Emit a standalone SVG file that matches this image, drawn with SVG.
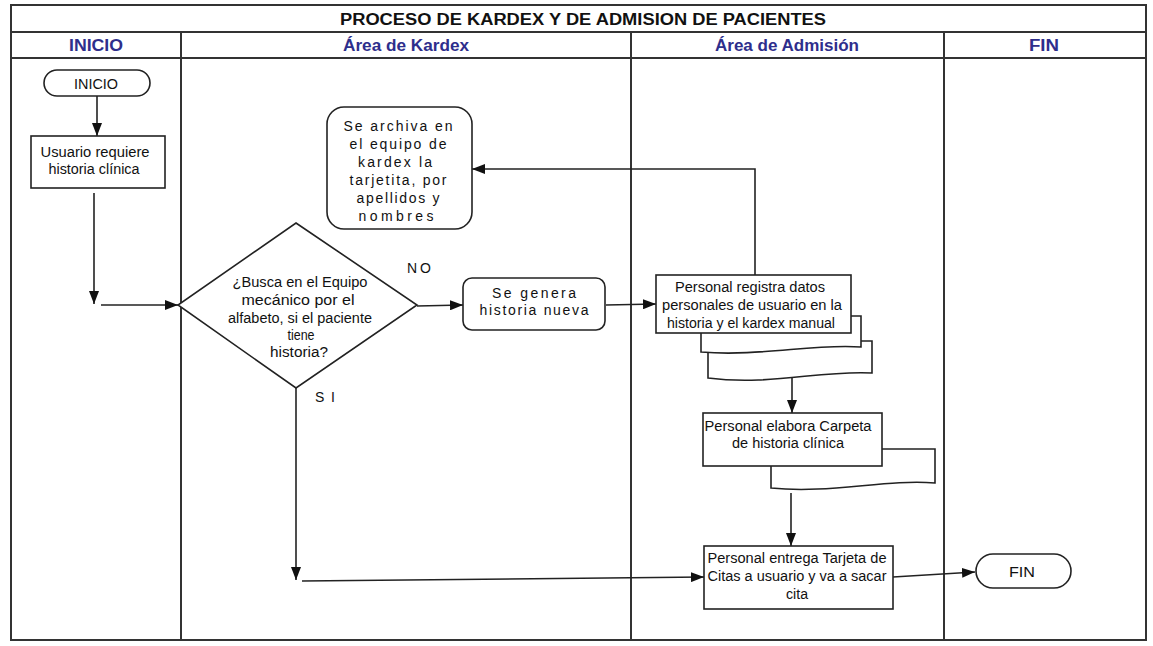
<svg xmlns="http://www.w3.org/2000/svg" width="1153" height="646" viewBox="0 0 1153 646">
  <defs>
    <marker id="arrow" markerWidth="13" markerHeight="10" refX="13" refY="5" orient="auto" markerUnits="userSpaceOnUse">
      <path d="M0,0 L13,5 L0,10 Z" fill="#111"/>
    </marker>
    <style>
      .frame { fill: none; stroke: #333; stroke-width: 2; }
      .shape { fill: #fff; stroke: #222; stroke-width: 1.6; }
      .conn { fill: none; stroke: #222; stroke-width: 1.6; marker-end: url(#arrow); }
      .title { font-family: "Liberation Sans Narrow", "Liberation Sans", Arial, sans-serif; font-weight: bold; font-size: 16px; fill: #111; }
      .head { font-family: "Liberation Sans Narrow", "Liberation Sans", Arial, sans-serif; font-weight: bold; font-size: 16px; fill: #2e2e8c; }
      .t { font-family: "Liberation Sans", Arial, sans-serif; font-size: 14px; fill: #111; text-anchor: middle; }
      .ts { font-family: "Liberation Sans", Arial, sans-serif; font-size: 14px; fill: #111; text-anchor: middle; }
    </style>
  </defs>
  <rect width="1153" height="646" fill="#fff"/>

  <!-- swimlane frame -->
  <g id="frame">
    <rect class="frame" x="11" y="5" width="1135" height="635"/>
    <line class="frame" x1="11" y1="32" x2="1146" y2="32"/>
    <line class="frame" x1="11" y1="58" x2="1146" y2="58"/>
    <line class="frame" x1="181" y1="32" x2="181" y2="640"/>
    <line class="frame" x1="631" y1="32" x2="631" y2="640"/>
    <line class="frame" x1="944" y1="32" x2="944" y2="640"/>
    <text class="title" x="340" y="25" textLength="486" lengthAdjust="spacingAndGlyphs">PROCESO DE KARDEX  Y DE ADMISION DE PACIENTES</text>
    <text class="head" x="69" y="51" textLength="54" lengthAdjust="spacingAndGlyphs">INICIO</text>
    <text class="head" x="343" y="51" textLength="126" lengthAdjust="spacingAndGlyphs">Área de Kardex</text>
    <text class="head" x="715" y="51" textLength="144" lengthAdjust="spacingAndGlyphs">Área de Admisión</text>
    <text class="head" x="1029" y="51" textLength="30" lengthAdjust="spacingAndGlyphs">FIN</text>
  </g>

  <!-- connectors -->
  <g id="connectors">
    <path class="conn" d="M97,96 V136"/>
    <path class="conn" d="M94,193 V304"/>
    <path class="conn" d="M101,305 H178"/>
    <path class="conn" d="M417,306 L463,305"/>
    <path class="conn" d="M606,305 L656,304"/>
    <path class="conn" d="M755,275 V169 H472"/>
    <path class="conn" d="M792,378 V413"/>
    <path class="conn" d="M791,493 V546"/>
    <path class="conn" d="M296,388 V580"/>
    <path class="conn" d="M302,581 L704,577"/>
    <path class="conn" d="M893,577 L975,572"/>
    <text class="t" x="419" y="273" textLength="24" lengthAdjust="spacing">NO</text>
    <text class="t" x="325" y="402" textLength="20" lengthAdjust="spacing">S I</text>
  </g>

  <g id="inicio">
    <rect class="shape" x="44" y="70" width="106" height="26" rx="13"/>
    <text class="t" x="96" y="89" textLength="44" lengthAdjust="spacingAndGlyphs">INICIO</text>
  </g>

  <g id="usuario">
    <rect class="shape" x="31" y="136" width="134" height="52"/>
    <text class="t" x="95" y="157" textLength="109" lengthAdjust="spacingAndGlyphs">Usuario requiere</text>
    <text class="t" x="94" y="174" textLength="91" lengthAdjust="spacingAndGlyphs">historia clínica</text>
  </g>

  <g id="decision">
    <polygon class="shape" points="296,223 417,305 296,388 178,305"/>
    <text class="t" x="300" y="287" textLength="135" lengthAdjust="spacingAndGlyphs">¿Busca en el Equipo</text>
    <text class="t" x="298" y="305" textLength="113" lengthAdjust="spacingAndGlyphs">mecánico por el</text>
    <text class="t" x="300" y="323" textLength="144" lengthAdjust="spacingAndGlyphs">alfabeto, si el paciente</text>
    <text class="t" x="301" y="340" textLength="27" lengthAdjust="spacingAndGlyphs">tiene</text>
    <text class="t" x="299" y="357" textLength="58" lengthAdjust="spacingAndGlyphs">historia?</text>
  </g>

  <g id="archiva">
    <rect class="shape" x="327" y="107" width="145" height="122" rx="17"/>
    <text class="ts" x="398" y="131" textLength="109" lengthAdjust="spacing">Se archiva en</text>
    <text class="ts" x="398" y="149" textLength="97" lengthAdjust="spacing">el equipo de</text>
    <text class="ts" x="395" y="167" textLength="74" lengthAdjust="spacing">kardex la</text>
    <text class="ts" x="398" y="185" textLength="97" lengthAdjust="spacing">tarjetita, por</text>
    <text class="ts" x="398" y="203" textLength="83" lengthAdjust="spacing">apellidos y</text>
    <text class="ts" x="396" y="221" textLength="75" lengthAdjust="spacing">nombres</text>
  </g>

  <g id="genera">
    <rect class="shape" x="463" y="278" width="142" height="52" rx="9"/>
    <text class="ts" x="534" y="298" textLength="84" lengthAdjust="spacing">Se genera</text>
    <text class="ts" x="534" y="315" textLength="109" lengthAdjust="spacing">historia nueva</text>
  </g>

  <g id="registra">
    <path class="shape" d="M708,341 H872 V373 C820,370 770,386 708,378 Z"/>
    <path class="shape" d="M701,316 H861 V347 C815,343 760,357 701,352 Z"/>
    <rect class="shape" x="656" y="275" width="195" height="58"/>
    <text class="t" x="750" y="292" textLength="150" lengthAdjust="spacingAndGlyphs">Personal registra  datos</text>
    <text class="t" x="752" y="310" textLength="180" lengthAdjust="spacingAndGlyphs">personales de usuario en  la</text>
    <text class="t" x="751" y="328" textLength="168" lengthAdjust="spacingAndGlyphs">historia y el kardex manual</text>
  </g>

  <g id="elabora">
    <path class="shape" d="M771,449 H935 V483 C885,479 830,494 771,488 Z"/>
    <rect class="shape" x="703" y="413" width="179" height="53"/>
    <text class="t" x="788" y="431" textLength="167" lengthAdjust="spacingAndGlyphs">Personal  elabora Carpeta</text>
    <text class="t" x="788" y="448" textLength="112" lengthAdjust="spacingAndGlyphs">de historia clínica</text>
  </g>

  <g id="entrega">
    <rect class="shape" x="704" y="546" width="189" height="63"/>
    <text class="t" x="797" y="563" textLength="179" lengthAdjust="spacingAndGlyphs">Personal entrega Tarjeta de</text>
    <text class="t" x="797" y="581" textLength="179" lengthAdjust="spacingAndGlyphs">Citas a usuario y va a sacar</text>
    <text class="t" x="797" y="599" textLength="22" lengthAdjust="spacingAndGlyphs">cita</text>
  </g>

  <g id="fin">
    <rect class="shape" x="976" y="554" width="95" height="34" rx="17"/>
    <text class="t" x="1022" y="577" textLength="26" lengthAdjust="spacingAndGlyphs">FIN</text>
  </g>
</svg>
